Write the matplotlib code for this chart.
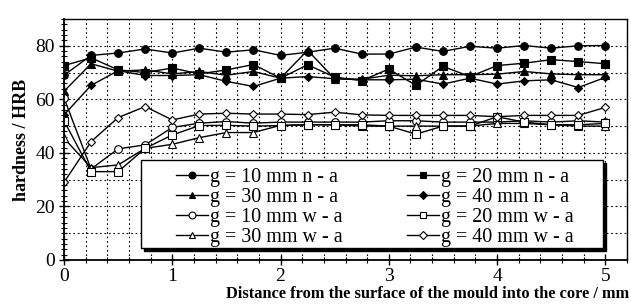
import matplotlib.pyplot as plt
import numpy as np
from matplotlib.patches import Rectangle
from matplotlib.ticker import MultipleLocator

plt.rcParams['font.family'] = ['Liberation Serif', 'DejaVu Serif']

# distance from the surface, mm
dist = np.arange(0, 5.01, 0.25)

n10 = [69, 76.4, 77.3, 78.8, 77.3, 79.1, 77.6, 78.5, 76.4, 77.6, 79.1,
       76.9, 76.9, 79.5, 77.9, 79.8, 79.1, 80.1, 79.1, 80.0, 80.1]
n20 = [72.6, 75.5, 71, 70, 71.7, 69.5, 71, 73, 67.9, 72.9, 68.3,
       67, 71.3, 65.2, 72.3, 68.5, 72.6, 73.5, 74.8, 74.1, 73.3]
n30 = [63, 73.3, 70.5, 71, 69.5, 70.4, 69, 70.4, 67.9, 78.3, 67.7,
       67.5, 69, 68.8, 69.2, 69.2, 69.4, 70.4, 69.5, 69.2, 69.2]
n40 = [54.2, 65.2, 70.7, 68.9, 68.9, 69.2, 66.7, 64.8, 67.9, 68.5, 67.7,
       67.3, 67.3, 67.5, 65.7, 67.9, 65.7, 66.9, 67.3, 64.4, 68.2]
w10 = [60.5, 34, 41.5, 43, 49.5, 51.1, 51.7, 51.1, 51.5, 51.5, 51.5,
       51.5, 52, 52, 51.5, 51.5, 51.5, 52, 51.5, 52, 51.5]
w20 = [52, 33, 33, 41.7, 46.7, 50.2, 50.3, 50, 50.2, 50.5, 50.5,
       50.5, 50, 47, 50, 50, 53.5, 51.5, 50.5, 50.5, 51]
w30 = [45.5, 34.5, 35.5, 41.7, 43.2, 45.7, 47.6, 47.6, 50.3, 50.5, 50.5,
       50, 50, 50, 50, 50, 51, 51, 50.5, 50, 50]
w40 = [29, 44.2, 53.2, 57.3, 52.3, 54.5, 54.8, 54.5, 54.5, 54.3, 55.2,
       54.2, 54, 54, 54, 54, 53.5, 54, 54, 54, 57]

series = [
    ('g = 10 mm n - a', n10, 'o', 'k'),
    ('g = 30 mm n - a', n30, '^', 'k'),
    ('g = 10 mm w - a', w10, 'o', 'w'),
    ('g = 30 mm w - a', w30, '^', 'w'),
    ('g = 20 mm n - a', n20, 's', 'k'),
    ('g = 40 mm n - a', n40, 'D', 'k'),
    ('g = 20 mm w - a', w20, 's', 'w'),
    ('g = 40 mm w - a', w40, 'D', 'w'),
]

fig = plt.figure(figsize=(6.31, 3.04), dpi=100)
ax = fig.add_axes([64 / 631, 1 - 260 / 304, (627 - 64) / 631, (260 - 19) / 304])

for label, vals, mk, fc in series:
    ms = 4.5 if mk == 'D' else 5.5
    ax.plot(dist, vals, color='k', lw=1.0, marker=mk, ms=ms,
            mfc=fc, mec='k', mew=0.8, label=label)

ax.set_xlim(0, 5.2)
ax.set_ylim(0, 90)
ax.xaxis.set_major_locator(MultipleLocator(1))
ax.xaxis.set_minor_locator(MultipleLocator(0.2))
ax.yaxis.set_minor_locator(MultipleLocator(2))
ax.set_yticks([0, 20, 40, 60, 80])
ax.grid(True, which='both', axis='x', ls=(0, (1.5, 2.5)), color='k', lw=0.8)
for yv in range(10, 90, 10):
    ax.axhline(yv, ls=(0, (1.5, 2.5)), color='k', lw=0.8, zorder=0)
ax.tick_params(which='both', direction='inout', labelsize=14, color='k')
ax.tick_params(which='major', length=7, width=1)
ax.tick_params(which='minor', length=4, width=0.8)
ax.tick_params(axis='y', pad=3)
ax.tick_params(axis='x', pad=2)
for s in ax.spines.values():
    s.set_linewidth(1.0)
ax.spines['left'].set_linewidth(1.3)
ax.spines['bottom'].set_linewidth(1.3)

fig.text(629 / 631, 1 - 294 / 304,
         'Distance from the surface of the mould into the core / mm',
         fontsize=11.8, fontweight='bold', ha='right', va='center')
ax.set_ylabel('hardness / HRB', fontsize=13, fontweight='bold', labelpad=4)

# legend box with a hard shadow
bx, by, bw, bh = 0.137, 0.05, 0.821, 0.365
ax.add_patch(Rectangle((bx + 3 / 563, by - 3 / 241), bw, bh, transform=ax.transAxes,
                       fc='k', ec='k', zorder=5))
ax.add_patch(Rectangle((bx, by), bw, bh, transform=ax.transAxes,
                       fc='w', ec='k', lw=1.0, zorder=6))

leg = ax.legend(ncol=2, loc='center left', bbox_to_anchor=(0.199, 0.216),
                borderaxespad=0, borderpad=0, fontsize=14.4, frameon=False,
                handlelength=1.6, handletextpad=0.12, labelspacing=0.05,
                columnspacing=3.2, markerscale=0.9)
leg.set_zorder(7)

fig.savefig('out.png', dpi=100)
